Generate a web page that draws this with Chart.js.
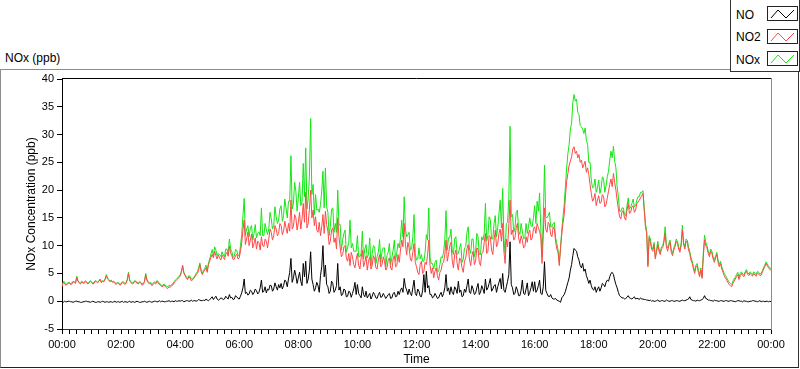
<!DOCTYPE html>
<html>
<head>
<meta charset="utf-8">
<script src="https://cdn.jsdelivr.net/npm/chart.js@4"></script>
<style>
  html, body { margin: 0; padding: 0; background: #fff; }
  #wrap { position: relative; width: 800px; height: 369px; overflow: hidden; font-family: "Liberation Sans", Arial, sans-serif; color: #000; }
  #frame { position: absolute; left: 0; top: 69px; width: 797px; height: 297px;
           border-left: 1px solid #8c8c8c; border-top: 1px solid #8c8c8c;
           border-right: 1px solid #333; border-bottom: 1px solid #222; }
  #unit { position: absolute; left: 5px; top: 51px; font-size: 12px; line-height: 14px; }
  canvas { position: absolute; left: 0; top: 0; }
  #legend { position: absolute; left: 730px; top: -1px; width: 68px; height: 71px; border: 1px solid #333; background: #fff; }
  .row { position: absolute; left: 5px; font-size: 12px; line-height: 14px; }
  .icon { position: absolute; left: 36px; width: 29px; height: 13px; border: 1px solid #222; background: #fff; }
  .icon svg { position: absolute; left: 0; top: 0; }
</style>
</head>
<body>
<div id="wrap">
  <div id="frame"></div>
  <div id="unit">NOx (ppb)</div>
  <canvas id="chart" width="800" height="369"></canvas>
  <div id="legend"></div>
</div>
<script>
// readings every 2.5 minutes, 00:00 .. 24:00 (one line per hour)
const no2 = [
  2.6,3.4, 3.2,2.9, 3.0,3.2, 3.3,3.0, 3.1,3.5, 3.4,3.2, 4.3,3.6, 3.3,3.1, 3.5,3.3, 3.2,3.5, 3.4,3.1, 3.3,3.6,
  3.4,3.1, 3.2,3.6, 3.5,3.3, 3.6,3.9, 3.3,3.6, 3.5,3.9, 4.6,4.0, 3.8,3.5, 3.7,3.4, 3.5,3.2, 3.0,3.3, 3.2,2.9,
  3.0,3.4, 3.3,3.0, 3.2,3.8, 5.1,3.6, 3.4,3.1, 3.2,3.6, 3.5,3.2, 3.1,3.4, 3.3,2.9, 3.0,3.5, 4.8,3.7, 3.4,3.1,
  3.2,2.8, 3.0,3.3, 3.1,3.5, 3.4,3.0, 2.9,2.6, 2.7,2.9, 2.6,2.4, 2.3,2.6, 2.5,2.8, 2.9,3.3, 3.6,3.8, 4.0,4.3,
  4.5,5.2, 6.3,5.0, 4.6,4.2, 3.9,4.4, 4.2,3.7, 3.8,4.1, 4.4,4.8, 5.0,5.6, 6.6,5.4, 4.8,5.3, 5.6,6.0, 5.2,6.6,
  7.2,7.9, 8.4,7.8, 9.0,8.2, 7.6,8.3, 7.8,7.4, 8.3,7.9, 7.5,8.4, 8.8,8.1, 9.9,8.7, 8.2,7.5, 7.6,8.2, 8.5,7.6,
  7.8,9.0, 10.5,12.8, 14.6,10.2, 11.2,12.4, 10.0,11.0, 12.1,9.6, 10.4,11.4, 9.4,10.8, 10.6,9.2, 11.6,10.0, 9.8,11.2, 10.8,9.6,
  11.2,13.0, 12.4,11.0, 11.8,13.6, 13.0,11.8, 12.2,14.0, 13.6,12.0, 12.6,14.4, 13.2,12.2, 14.0,12.6, 18.2,13.0, 13.4,15.6, 15.0,12.8,
  14.2,16.0, 13.0,14.8, 17.6,14.2, 19.6,13.2, 14.0,16.6, 20.0,15.0, 16.4,13.6, 15.2,12.8, 12.4,14.2, 11.8,13.4, 15.6,12.2, 16.2,13.8,
  12.6,10.2, 10.8,12.8, 13.2,10.6, 11.4,9.4, 15.0,11.6, 9.6,8.0, 8.4,9.8, 10.0,7.8, 7.2,8.6, 6.4,8.8, 8.0,6.6, 6.0,7.6,
  8.6,6.4, 5.8,7.8, 9.2,6.2, 7.0,8.2, 5.6,7.2, 8.0,5.8, 6.4,8.2, 7.6,6.0, 5.8,7.4, 8.4,6.2, 6.6,8.0, 7.2,5.6,
  6.0,7.4, 7.8,6.0, 5.6,7.6, 8.2,6.2, 6.4,8.4, 7.0,9.2, 11.0,9.8, 14.0,10.2, 8.4,10.6, 9.6,7.6, 7.2,8.8, 10.4,7.0,
  6.2,5.2, 4.8,6.6, 7.2,5.0, 5.4,7.0, 6.6,8.4, 11.0,6.4, 5.0,6.0, 4.2,5.4, 6.0,4.6, 3.8,5.2, 5.6,6.8, 7.0,8.4,
  11.0,7.2, 8.4,10.0, 10.6,7.4, 6.0,8.4, 9.2,6.8, 5.6,7.8, 7.4,6.0, 5.2,7.2, 7.8,9.4, 10.2,7.6, 6.4,8.2, 9.0,6.6,
  7.2,9.6, 9.4,7.0, 6.4,8.6, 8.8,10.6, 12.2,8.6, 9.0,11.8, 11.6,9.2, 8.4,11.0, 12.8,9.8, 10.4,12.2, 13.0,10.8, 14.0,9.0,
  6.8,11.2, 9.8,13.6, 18.2,12.0, 12.8,11.0, 11.4,13.2, 14.0,11.4, 10.4,11.8, 11.0,9.6, 9.8,11.6, 10.6,12.2, 12.8,11.0, 11.4,13.0,
  13.4,12.2, 14.0,13.2, 12.6,11.4, 6.8,12.0, 16.8,13.0, 12.4,14.2, 13.8,12.0, 11.6,13.4, 13.0,10.8, 9.4,8.8, 6.4,9.6, 12.0,14.0,
  15.6,18.8, 21.6,23.0, 24.5,25.2, 26.0,27.4, 27.8,26.6, 27.0,25.8, 26.4,25.0, 25.4,24.0, 24.6,25.2, 23.2,24.0, 22.8,21.0, 19.4,18.0,
  18.4,19.4, 17.2,18.2, 19.0,17.6, 17.8,19.2, 18.8,17.0, 17.4,18.6, 19.8,21.0, 22.0,20.6, 23.0,21.4, 20.0,18.2, 16.6,15.2, 14.8,16.2,
  16.2,15.0, 14.6,16.4, 17.6,15.8, 16.0,17.0, 17.2,16.0, 16.4,17.6, 17.8,18.2, 18.6,19.0, 19.4,16.4, 13.4,12.2, 6.2,11.4, 10.6,9.4,
  9.0,10.2, 7.6,8.8, 10.2,9.0, 8.4,9.4, 9.6,10.6, 12.2,9.8, 9.0,10.0, 10.6,8.8, 8.2,9.2, 9.8,10.8, 10.4,9.4, 8.8,10.0,
  12.8,10.2, 9.4,10.8, 10.6,9.2, 8.6,7.4, 6.8,5.8, 5.0,6.2, 6.4,5.2, 4.4,5.6, 4.1,8.0, 11.0,10.0, 9.6,8.6, 8.0,9.0,
  8.6,7.6, 7.0,7.8, 8.4,7.0, 6.2,6.8, 5.8,5.2, 4.6,4.2, 3.8,3.4, 3.0,2.8, 2.6,3.2, 3.6,4.0, 4.4,4.8, 3.9,4.6,
  5.0,4.6, 4.4,5.0, 5.4,4.9, 4.6,5.0, 4.8,4.5, 5.0,4.7, 4.5,5.1, 4.9,4.6, 4.7,5.2, 5.8,6.2, 6.8,6.4, 6.0,5.7,
  5.6
];

const nox = [
  2.8,3.5, 3.5,3.0, 3.1,3.4, 3.4,3.1, 3.3,3.6, 3.5,3.4, 4.5,3.7, 3.4,3.2, 3.6,3.4, 3.4,3.7, 3.5,3.2, 3.4,3.7,
  3.5,3.2, 3.4,3.7, 3.6,3.4, 3.7,4.0, 3.5,3.7, 3.6,4.0, 4.8,4.2, 3.9,3.6, 3.8,3.5, 3.6,3.4, 3.2,3.4, 3.3,3.1,
  3.1,3.5, 3.5,3.2, 3.3,3.9, 5.2,3.8, 3.6,3.3, 3.3,3.7, 3.6,3.4, 3.3,3.5, 3.4,3.1, 3.2,3.6, 5.0,3.9, 3.6,3.3,
  3.4,3.0, 3.2,3.5, 3.3,3.7, 3.6,3.2, 3.1,2.8, 2.9,3.1, 2.8,2.7, 2.6,2.9, 2.8,3.0, 3.1,3.5, 3.8,4.0, 4.2,4.5,
  4.7,5.4, 6.5,5.2, 4.8,4.4, 4.1,4.6, 4.5,4.0, 4.0,4.3, 4.6,5.0, 5.3,6.0, 6.9,5.6, 5.0,5.6, 5.9,6.5, 5.5,6.9,
  7.6,8.5, 9.3,8.2, 9.8,9.2, 8.2,8.6, 8.3,8.1, 8.9,8.3, 8.0,9.4, 9.4,8.6, 11.2,9.4, 8.9,7.9, 8.1,9.3, 9.2,8.2,
  8.2,10.0, 12.0,15.4, 18.5,11.8, 13.0,13.6, 11.6,13.2, 13.6,11.0, 12.2,13.8, 11.4,12.2, 12.5,11.8, 16.8,11.8, 11.8,14.0, 12.9,12.0,
  13.0,16.0, 14.8,13.0, 13.6,17.0, 15.2,14.0, 14.6,16.6, 17.2,14.4, 15.4,18.4, 16.8,15.0, 18.0,18.0, 26.2,16.6, 17.6,21.4, 19.8,16.2,
  18.6,21.4, 17.2,17.8, 24.8,18.8, 27.6,16.6, 18.4,22.4, 32.9,19.2, 21.0,15.6, 19.2,16.4, 16.6,16.0, 17.4,19.8, 23.4,16.8, 24.0,17.0,
  16.0,11.8, 13.4,16.6, 16.8,12.4, 14.0,12.4, 20.0,13.8, 13.8,9.2, 11.0,12.2, 12.8,8.8, 9.6,10.6, 14.6,9.6, 10.4,9.0, 9.0,9.0,
  11.8,8.0, 8.0,8.6, 12.6,7.6, 9.4,10.2, 7.8,8.4, 11.4,6.4, 8.6,10.0, 9.8,6.8, 8.0,8.8, 11.1,7.0, 9.0,9.6, 9.6,6.2,
  8.2,8.8, 10.4,6.6, 7.8,9.2, 11.0,7.2, 8.8,10.4, 9.6,11.4, 14.6,11.6, 18.8,13.0, 11.6,12.0, 12.4,9.2, 9.4,11.4, 15.6,8.6,
  7.4,7.6, 9.6,7.6, 8.4,7.2, 7.2,8.8, 12.0,11.0, 16.8,7.8, 6.8,6.8, 5.8,7.0, 7.4,5.2, 5.4,6.6, 8.0,7.8, 8.8,11.0,
  16.3,9.2, 11.4,11.4, 13.0,9.2, 8.4,11.2, 11.6,8.4, 8.6,9.6, 10.4,7.0, 7.6,9.6, 9.8,12.4, 13.4,9.4, 8.6,11.2, 11.2,8.0,
  9.0,12.2, 11.6,8.4, 8.4,11.6, 11.0,12.2, 17.6,10.8, 11.8,15.2, 14.6,11.2, 11.2,14.0, 15.4,11.6, 13.2,15.8, 18.2,13.2, 20.3,11.2,
  8.6,14.0, 14.2,18.6, 31.5,15.2, 15.6,12.4, 13.2,16.0, 16.4,12.6, 12.0,14.0, 12.6,11.2, 11.4,14.0, 12.2,13.4, 15.0,13.6, 13.4,15.0,
  17.2,14.0, 18.0,16.2, 19.5,13.0, 8.0,14.8, 24.5,15.2, 15.0,15.4, 16.0,13.4, 13.4,14.0, 14.2,11.4, 10.4,9.2, 7.0,9.6, 12.8,15.2,
  17.4,20.8, 24.0,26.6, 28.2,31.0, 32.0,35.8, 37.2,36.0, 36.4,34.0, 33.6,31.6, 31.4,31.0, 30.2,31.2, 29.0,28.2, 25.0,25.0, 21.8,20.4,
  20.6,22.0, 19.6,20.4, 21.8,19.4, 20.4,22.4, 22.0,19.6, 20.8,22.4, 23.4,25.4, 27.0,25.8, 27.9,25.2, 24.0,20.6, 18.8,16.2, 16.2,16.8,
  16.8,15.6, 15.4,17.2, 18.6,16.6, 17.0,17.6, 18.4,17.0, 17.2,18.2, 18.8,18.8, 19.6,19.6, 19.9,16.9, 14.0,12.6, 6.6,11.8, 11.2,9.8,
  9.4,10.6, 8.0,9.2, 10.8,9.4, 8.8,9.8, 10.0,11.0, 13.4,10.2, 9.6,10.4, 11.0,9.2, 8.6,9.6, 10.2,11.2, 10.8,9.8, 9.2,10.4,
  13.7,10.6, 9.8,11.2, 11.0,9.8, 9.0,7.9, 7.2,6.2, 5.4,6.5, 6.8,5.6, 4.8,6.0, 4.4,8.6, 11.9,10.6, 10.0,9.0, 8.4,9.4,
  9.0,8.0, 7.4,8.2, 8.8,7.4, 6.6,7.2, 6.2,5.6, 5.0,4.6, 4.2,3.8, 3.4,3.2, 3.0,3.6, 4.0,4.3, 4.8,5.2, 4.3,5.0,
  5.3,4.9, 4.7,5.3, 5.7,5.2, 4.9,5.3, 5.1,4.8, 5.3,5.0, 4.8,5.4, 5.2,4.9, 5.0,5.5, 6.1,6.5, 7.1,6.7, 6.3,6.0,
  5.9
];

const no = [
  -0.1,-0.2, 0.0,-0.1, -0.1,0.0, 0.0,-0.1, -0.1,-0.2, -0.1,0.0, 0.0,-0.1, -0.1,-0.2, -0.2,-0.1, -0.1,0.0, 0.0,-0.1, -0.1,-0.2,
  -0.1,0.0, -0.1,-0.2, -0.2,-0.1, -0.1,-0.2, -0.1,0.0, -0.1,-0.2, -0.1,-0.1, -0.2,-0.1, -0.1,-0.2, -0.1,0.0, -0.2,-0.1, -0.1,-0.2,
  -0.1,0.0, -0.2,-0.1, -0.1,-0.2, -0.1,0.0, -0.2,-0.1, -0.1,-0.2, -0.1,0.0, -0.1,-0.2, -0.2,-0.1, -0.1,0.0, -0.1,-0.2, -0.1,0.0,
  -0.1,-0.2, -0.1,0.0, 0.0,-0.1, -0.1,0.1, -0.1,0.0, 0.0,-0.1, -0.1,0.0, 0.0,0.1, -0.1,0.0, 0.0,-0.1, 0.1,0.0, 0.0,0.1,
  0.0,0.1, 0.1,-0.1, 0.0,0.1, 0.1,0.0, 0.0,0.2, 0.0,0.1, 0.1,0.0, 0.1,0.3, 0.2,0.1, 0.1,0.2, 0.1,0.4, 0.2,0.1,
  0.3,0.5, 0.8,0.3, 0.6,0.9, 0.4,0.2, 0.3,0.6, 0.5,0.3, 0.4,0.9, 0.6,0.4, 1.2,0.6, 0.7,0.3, 0.4,1.0, 0.8,0.5,
  0.4,0.9, 1.5,2.4, 4.0,1.4, 1.6,1.1, 1.3,2.0, 1.8,1.2, 1.5,2.2, 1.9,1.3, 1.6,2.4, 3.8,1.6, 1.8,2.6, 1.5,2.2,
  2.0,2.9, 2.8,1.8, 2.2,3.3, 2.6,2.0, 3.0,2.4, 3.2,2.2, 2.8,3.8, 3.6,2.6, 4.0,5.2, 7.7,3.4, 4.2,5.6, 4.6,3.2,
  4.2,5.2, 3.6,2.8, 6.8,4.4, 7.2,3.2, 4.0,5.6, 8.9,4.0, 3.0,1.8, 2.4,3.4, 2.8,1.6, 4.6,6.2, 10.0,4.4, 6.5,3.0,
  2.6,1.4, 1.8,3.6, 3.2,1.6, 2.0,2.8, 6.8,2.0, 2.6,1.0, 1.2,2.2, 2.0,0.8, 0.9,1.8, 1.6,0.7, 1.4,2.2, 3.4,1.2,
  3.0,1.4, 1.0,0.6, 2.6,1.2, 0.8,1.8, 0.6,1.0, 1.4,0.4, 0.9,1.6, 1.2,0.6, 0.5,1.2, 1.6,0.7, 0.8,1.4, 1.0,0.5,
  0.8,1.2, 1.4,0.5, 0.6,1.4, 1.6,0.8, 0.9,1.8, 1.2,2.0, 2.4,1.6, 4.1,2.6, 2.0,1.2, 2.2,1.4, 1.0,2.4, 3.8,1.4,
  1.0,2.2, 1.8,0.9, 0.8,2.0, 4.8,1.6, 5.4,2.4, 2.8,1.2, 1.2,0.6, 0.8,1.4, 1.0,0.5, 0.6,1.2, 1.6,0.8, 1.4,2.4,
  4.8,1.8, 2.4,1.2, 2.6,1.6, 1.2,2.6, 2.2,1.4, 3.6,1.6, 2.0,0.8, 1.0,2.2, 1.6,2.8, 4.0,1.6, 1.4,2.8, 2.2,1.2,
  1.4,2.4, 3.2,1.2, 1.6,2.8, 2.2,1.4, 4.0,2.0, 2.4,3.2, 4.1,1.8, 2.2,2.8, 3.0,1.6, 2.6,3.4, 4.1,2.2, 5.0,2.0,
  1.6,2.6, 3.6,4.8, 10.7,3.0, 2.4,1.2, 1.4,2.6, 2.0,1.0, 1.0,2.0, 3.8,1.4, 1.2,2.2, 3.3,1.0, 1.6,2.4, 3.5,1.8,
  3.5,1.6, 2.0,2.8, 3.8,1.4, 1.2,2.6, 7.1,2.0, 1.4,0.9, 0.8,1.2, 0.6,0.4, 0.4,0.5, 0.2,0.1, 0.0,-0.2, 0.6,0.9,
  1.2,1.8, 2.6,3.4, 4.2,5.6, 6.6,8.2, 9.5,9.2, 9.0,8.0, 7.4,6.4, 6.0,6.8, 5.4,5.8, 4.6,4.0, 3.2,3.8, 2.8,2.2,
  2.0,2.6, 1.6,2.2, 2.6,1.8, 2.4,3.2, 3.0,2.6, 3.4,3.8, 3.6,4.4, 5.0,5.2, 4.8,3.8, 3.0,2.4, 1.6,1.0, 0.8,0.6,
  0.6,0.4, 0.5,0.7, 1.0,0.6, 0.5,0.4, 0.6,0.8, 0.4,0.5, 0.5,0.3, 0.6,0.4, 0.4,0.3, 0.3,0.2, 0.2,0.1, 0.2,0.0,
  0.1,0.0, 0.0,0.1, 0.2,0.0, 0.0,0.1, 0.1,0.0, 0.0,0.2, 0.1,0.0, 0.0,0.1, 0.1,0.0, 0.0,0.1, 0.1,0.0, 0.0,0.1,
  0.2,0.1, 0.1,0.2, 0.3,0.4, 0.8,0.3, 0.2,0.1, 0.1,0.0, 0.2,0.1, 0.1,0.2, 0.3,0.5, 1.0,0.5, 0.4,0.2, 0.2,0.1,
  0.1,0.0, 0.2,0.1, 0.1,0.0, 0.0,0.1, 0.1,0.0, 0.0,0.1, 0.1,0.0, 0.0,0.1, 0.1,0.0, 0.0,-0.1, 0.0,0.1, 0.1,0.0,
  0.0,-0.1, 0.1,0.0, 0.0,-0.1, -0.1,0.0, 0.0,0.1, 0.1,0.0, 0.0,-0.1, 0.0,0.1, -0.1,0.0, 0.0,-0.1, 0.0,0.0, -0.1,0.0,
  -0.1
];

// sample times in minutes after midnight (2.5 minute interval)
const times = no2.map((v, i) => i * 2.5);

const seriesNames = ['NO', 'NO2', 'NOx'];
const seriesColors = ['#000000', '#ff4848', '#14e614'];
const seriesData = [no, no2, nox];

const fontFamily = '"Liberation Sans", Arial, sans-serif';

function hhmm(m) {
    const h = Math.floor(m / 60) % 24;
    return (h < 10 ? '0' : '') + h + ':00';
}

// legend (plot legend box in the top right corner)
const legend = document.getElementById('legend');
seriesNames.forEach((name, i) => {
    const top = 8 + i * 22.5;
    const label = document.createElement('div');
    label.className = 'row';
    label.style.top = (top - 0.5) + 'px';
    label.textContent = name;
    legend.appendChild(label);

    const icon = document.createElement('div');
    icon.className = 'icon';
    icon.style.top = (top - 2) + 'px';
    icon.innerHTML = '<svg width="29" height="13"><polyline points="3,11 10,3 18,11 26,3" fill="none" stroke="' +
        seriesColors[i] + '" stroke-width="1"/></svg>';
    legend.appendChild(icon);
});

// top (black) and right (grey) edges of the plot area
const plotFrame = {
    id: 'plotFrame',
    afterDraw(chart) {
        const {ctx, chartArea: a} = chart;
        ctx.save();
        ctx.lineWidth = 1;
        ctx.strokeStyle = '#000';
        ctx.beginPath();
        ctx.moveTo(a.left, Math.round(a.top) - 0.5);
        ctx.lineTo(a.right, Math.round(a.top) - 0.5);
        ctx.stroke();
        ctx.strokeStyle = '#8c8c8c';
        ctx.beginPath();
        ctx.moveTo(Math.round(a.right) + 0.5, a.top - 1);
        ctx.lineTo(Math.round(a.right) + 0.5, a.bottom + 1);
        ctx.stroke();
        ctx.restore();
    }
};

new Chart(document.getElementById('chart'), {
    type: 'line',
    data: {
        datasets: seriesNames.map((name, i) => ({
            label: name,
            data: seriesData[i].map((v, j) => ({x: times[j], y: v})),
            borderColor: seriesColors[i],
            backgroundColor: seriesColors[i],
            borderWidth: 1,
            pointRadius: 0,
            tension: 0,
            fill: false
        }))
    },
    options: {
        responsive: false,
        animation: false,
        events: [],
        layout: {
            padding: {top: 79, right: 29, bottom: 0, left: 0}
        },
        plugins: {
            legend: {display: false},
            tooltip: {enabled: false}
        },
        scales: {
            x: {
                type: 'linear',
                min: 0,
                max: 1440,
                afterFit(scale) { scale.height = 40; },
                border: {color: '#333', width: 1},
                grid: {drawOnChartArea: false, tickLength: 5, color: '#000'},
                ticks: {
                    stepSize: 15,
                    autoSkip: false,
                    maxRotation: 0,
                    minRotation: 0,
                    padding: 4,
                    color: '#000',
                    font: {family: fontFamily, size: 11},
                    callback: (v) => (v % 120 === 0 ? hhmm(v) : '')
                },
                title: {
                    display: true,
                    text: 'Time',
                    color: '#000',
                    font: {family: fontFamily, size: 12},
                    padding: {top: 0, bottom: 2}
                }
            },
            y: {
                min: -5,
                max: 40,
                afterFit(scale) { scale.width = 62; },
                border: {color: '#000', width: 1},
                grid: {drawOnChartArea: false, tickLength: 5, color: '#000'},
                ticks: {
                    stepSize: 5,
                    padding: 3,
                    color: '#000',
                    font: {family: fontFamily, size: 11}
                },
                title: {
                    display: true,
                    text: 'NOx Concentration (ppb)',
                    color: '#000',
                    font: {family: fontFamily, size: 12},
                    padding: {top: 24, bottom: 0}
                }
            }
        }
    },
    plugins: [plotFrame]
});
</script>
</body>
</html>
